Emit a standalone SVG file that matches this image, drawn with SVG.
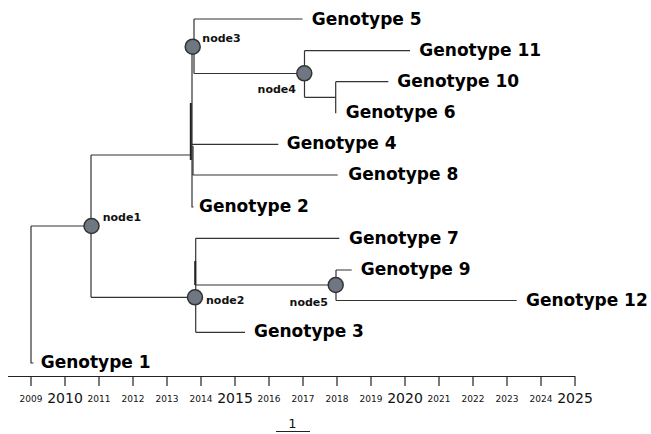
<svg xmlns="http://www.w3.org/2000/svg" width="651" height="434" viewBox="0 0 651 434">
<style>
.br{stroke:#333;stroke-width:1.2;fill:none}
.thick{stroke:#222;stroke-width:2;fill:none}
.nd{fill:#6e7782;stroke:#333;stroke-width:1.5}
.lf{font-family:"DejaVu Sans",sans-serif;font-weight:bold;font-size:17px;fill:#000}
.nl{font-family:"DejaVu Sans",sans-serif;font-weight:bold;font-size:11px;fill:#111}
.ax{stroke:#222;stroke-width:1.2;fill:none}
.ys{font-family:"DejaVu Sans",sans-serif;font-size:9px;fill:#111;text-anchor:middle}
.yl{font-family:"DejaVu Sans",sans-serif;font-size:14px;fill:#111;text-anchor:middle}
</style>
<rect width="651" height="434" fill="#fff"/>
<g id="connectors">
<path class="br" d="M31 226V363H33.5M31 226H91"/>
<path class="br" d="M91 155V297.3M91 155H191.5M91 297.3H195"/>
<path class="br" d="M192 46.7V207H193.5"/>
<path class="thick" d="M190.8 103V160"/>
<path class="br" d="M193 146V175"/>
<path class="br" d="M191.8 144.3H278.3M192.5 175H337.7"/>
<path class="br" d="M194 19V73.5M194 19H302.5M194 73.5H304.3"/>
<path class="br" d="M304.5 50.7V97.3M304.5 50.7H410M304.5 97.3H335.7"/>
<path class="br" d="M335.7 81.7V113.3M335.7 81.7H388.3"/>
<path class="br" d="M195.7 238.3V332.3M195.7 238.3H339.3M195.7 285H335.7M195.7 332.3H245"/>
<path class="thick" d="M195.2 261V285"/>
<path class="br" d="M336 270V300.5M336 270H351.7M336 300.5H516.7"/>
</g>
<g id="node1"><circle class="nd" cx="91.5" cy="226" r="7.5"/><text class="nl" x="102.7" y="221">node1</text></g>
<g id="node2"><circle class="nd" cx="195" cy="297.3" r="7.5"/><text class="nl" x="206" y="303.5">node2</text></g>
<g id="node3"><circle class="nd" cx="192.7" cy="46.7" r="7.5"/><text class="nl" x="202.3" y="42">node3</text></g>
<g id="node4"><circle class="nd" cx="304.3" cy="73.3" r="7.5"/><text class="nl" x="296" y="93" text-anchor="end">node4</text></g>
<g id="node5"><circle class="nd" cx="335.7" cy="285" r="7.5"/><text class="nl" x="328" y="306" text-anchor="end">node5</text></g>
<g id="genotype1"><text class="lf" x="40.7" y="368">Genotype 1</text></g>
<g id="genotype2"><text class="lf" x="199" y="212">Genotype 2</text></g>
<g id="genotype3"><text class="lf" x="254" y="337">Genotype 3</text></g>
<g id="genotype4"><text class="lf" x="286.7" y="149">Genotype 4</text></g>
<g id="genotype5"><text class="lf" x="311.7" y="24.5">Genotype 5</text></g>
<g id="genotype6"><text class="lf" x="345.7" y="117.5">Genotype 6</text></g>
<g id="genotype7"><text class="lf" x="349" y="243.5">Genotype 7</text></g>
<g id="genotype8"><text class="lf" x="348.3" y="180">Genotype 8</text></g>
<g id="genotype9"><text class="lf" x="360.7" y="275">Genotype 9</text></g>
<g id="genotype10"><text class="lf" x="397.3" y="87">Genotype 10</text></g>
<g id="genotype11"><text class="lf" x="419.3" y="55.5">Genotype 11</text></g>
<g id="genotype12"><text class="lf" x="526" y="306">Genotype 12</text></g>
<g id="axis">
<path class="ax" d="M8 376.5H575.5M31 376.5V386M65 376.5V386M99 376.5V386M133 376.5V386M167 376.5V386M201 376.5V386M235 376.5V386M269 376.5V386M303 376.5V386M337 376.5V386M371 376.5V386M405 376.5V386M439 376.5V386M473 376.5V386M507 376.5V386M541 376.5V386M575 376.5V386"/>
<text class="ys" x="31" y="402">2009</text>
<text class="yl" x="65" y="402.5">2010</text>
<text class="ys" x="99" y="402">2011</text>
<text class="ys" x="133" y="402">2012</text>
<text class="ys" x="167" y="402">2013</text>
<text class="ys" x="201" y="402">2014</text>
<text class="yl" x="235" y="402.5">2015</text>
<text class="ys" x="269" y="402">2016</text>
<text class="ys" x="303" y="402">2017</text>
<text class="ys" x="337" y="402">2018</text>
<text class="ys" x="371" y="402">2019</text>
<text class="yl" x="405" y="402.5">2020</text>
<text class="ys" x="439" y="402">2021</text>
<text class="ys" x="473" y="402">2022</text>
<text class="ys" x="507" y="402">2023</text>
<text class="ys" x="541" y="402">2024</text>
<text class="yl" x="575" y="402.5">2025</text>
</g>
<g id="scale">
<path class="ax" d="M276 431.5H310"/>
<text class="yl" x="292.5" y="428" style="font-size:13px">1</text>
</g>
</svg>
